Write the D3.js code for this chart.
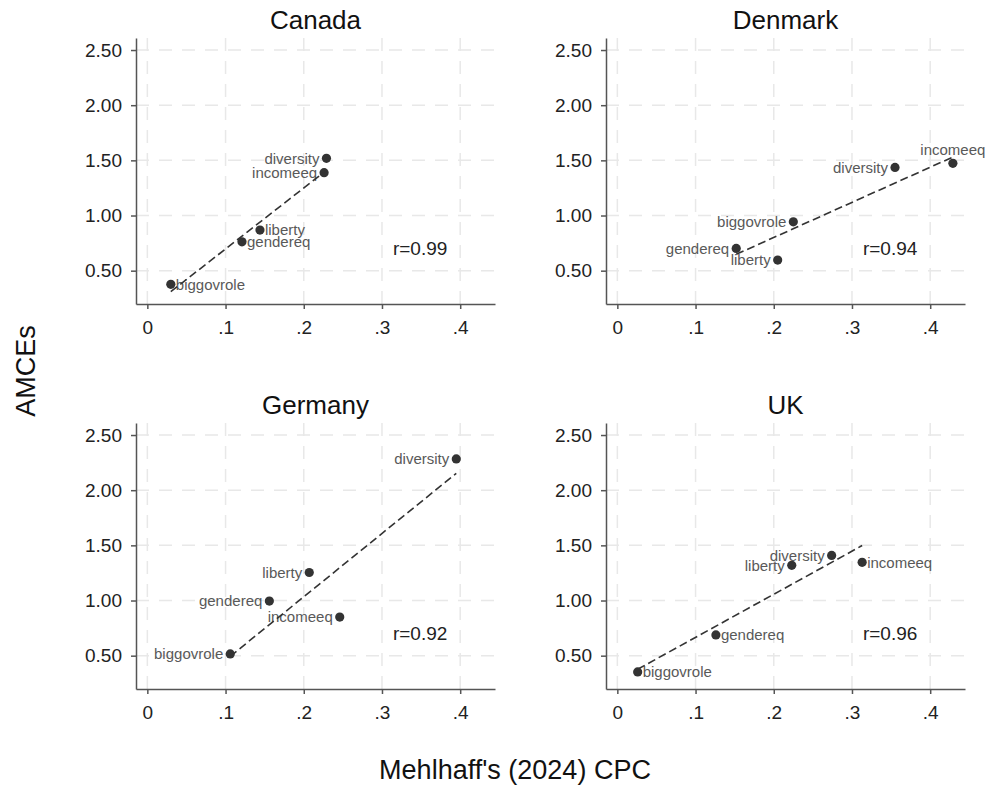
<!DOCTYPE html>
<html>
<head>
<meta charset="utf-8">
<script src="https://cdn.jsdelivr.net/npm/d3@7"></script>
<style>
  body { margin: 0; background: #fff; }
  text { font-family: Arial, "Liberation Sans", sans-serif; }
</style>
</head>
<body>
<svg id="chart"></svg>
<script>
const svgWidth = 987;
const svgHeight = 788;

// data
const countries = ["Canada", "Denmark", "Germany", "UK"];
const features = ["biggovrole", "diversity", "gendereq", "incomeeq", "liberty"];
const cpcValues = [
  [0.030, 0.229, 0.121, 0.226, 0.144],
  [0.225, 0.355, 0.152, 0.429, 0.205],
  [0.106, 0.395, 0.156, 0.246, 0.207],
  [0.026, 0.274, 0.126, 0.313, 0.223]
];
const amceValues = [
  [0.376, 1.518, 0.762, 1.388, 0.868],
  [0.943, 1.436, 0.702, 1.473, 0.596],
  [0.516, 2.283, 0.995, 0.850, 1.254],
  [0.353, 1.409, 0.688, 1.346, 1.319]
];
// fitted line value at min and max CPC
const fitValues = [
  [0.31, 1.41],
  [0.648, 1.53],
  [0.494, 2.153],
  [0.377, 1.498]
];
const rValues = [0.99, 0.94, 0.92, 0.96];
const xTicks = [0, 0.1, 0.2, 0.3, 0.4];
const yTicks = [0.5, 1, 1.5, 2, 2.5];

// marker label position per feature (like Stata mlabpos)
const labelSide = [
  ["right", "left", "right", "left", "right"],
  ["left", "left", "left", "top", "left"],
  ["left", "left", "left", "left", "left"],
  ["right", "left", "right", "right", "left"]
];

const panelW = 359;
const panelH = 266;

const svg = d3.select("#chart")
  .attr("width", svgWidth)
  .attr("height", svgHeight);

const x = d3.scaleLinear().domain([-0.0145, 0.4445]).range([0, panelW]);
const y = d3.scaleLinear().domain([0.198, 2.609]).range([panelH, 0]);

countries.forEach((country, i) => {
  const col = i % 2, row = Math.floor(i / 2);
  const g = svg.append("g")
    .attr("transform", `translate(${136 + 470 * col},${38 + 385 * row})`);

  // title
  svg.append("text")
    .attr("x", 315.5 + 470 * col)
    .attr("y", 29 + 385 * row)
    .attr("text-anchor", "middle")
    .style("font-size", "26px")
    .attr("fill", "#111")
    .text(country);

  // grid
  g.selectAll(".vgrid")
    .data(xTicks)
    .enter()
    .append("line")
    .attr("x1", d => x(d)).attr("x2", d => x(d))
    .attr("y1", 0).attr("y2", panelH)
    .attr("stroke", "#e8e8e8")
    .attr("stroke-width", 1.5)
    .attr("stroke-dasharray", "13,10");

  g.selectAll(".hgrid")
    .data(yTicks)
    .enter()
    .append("line")
    .attr("x1", 0).attr("x2", panelW)
    .attr("y1", d => y(d)).attr("y2", d => y(d))
    .attr("stroke", "#e8e8e8")
    .attr("stroke-width", 1.5)
    .attr("stroke-dasharray", "13,10");

  // axes
  const xAxis = g.append("g")
    .attr("transform", `translate(0,${panelH})`)
    .call(d3.axisBottom(x).tickValues(xTicks).tickSize(5).tickSizeOuter(0).tickPadding(12)
      .tickFormat(d => d === 0 ? "0" : d3.format(".1f")(d).replace(/^0/, "")));

  const yAxis = g.append("g")
    .call(d3.axisLeft(y).tickValues(yTicks).tickSize(5).tickSizeOuter(0).tickPadding(9)
      .tickFormat(d3.format(".2f")));

  [xAxis, yAxis].forEach(a => {
    a.select(".domain").attr("stroke", "#555").attr("stroke-width", 1.5);
    a.selectAll(".tick line").attr("stroke", "#555").attr("stroke-width", 1.5);
    a.selectAll(".tick text")
      .attr("fill", "#222")
      .style("font-size", "19px")
      .style("font-family", "Arial, 'Liberation Sans', sans-serif");
  });

  const pts = features.map((f, j) => ({
    name: f,
    cx: cpcValues[i][j],
    cy: amceValues[i][j],
    side: labelSide[i][j]
  }));

  // points
  g.selectAll(".pt")
    .data(pts)
    .enter()
    .append("circle")
    .attr("cx", d => x(d.cx))
    .attr("cy", d => y(d.cy))
    .attr("r", 4.6)
    .attr("fill", "#333");

  // marker labels
  g.selectAll(".lbl")
    .data(pts)
    .enter()
    .append("text")
    .attr("x", d => d.side === "left" ? x(d.cx) - 7 : d.side === "right" ? x(d.cx) + 5 : x(d.cx))
    .attr("y", d => d.side === "top" ? y(d.cy) - 8 : y(d.cy))
    .attr("dy", d => d.side === "top" ? "0" : "0.35em")
    .attr("text-anchor", d => d.side === "left" ? "end" : d.side === "right" ? "start" : "middle")
    .attr("fill", "#595959")
    .style("font-size", "15px")
    .text(d => d.name);

  // linear fit
  const ext = d3.extent(cpcValues[i]);
  g.append("line")
    .attr("x1", x(ext[0])).attr("y1", y(fitValues[i][0]))
    .attr("x2", x(ext[1])).attr("y2", y(fitValues[i][1]))
    .attr("stroke", "#333")
    .attr("stroke-width", 1.6)
    .attr("stroke-dasharray", "8,4");

  // correlation
  g.append("text")
    .attr("x", x(0.314))
    .attr("y", y(0.705))
    .attr("dy", "0.35em")
    .attr("fill", "#222")
    .style("font-size", "19px")
    .text(`r=${rValues[i].toFixed(2)}`);
});

// axis titles
svg.append("text")
  .attr("transform", "translate(35,371) rotate(-90)")
  .attr("text-anchor", "middle")
  .attr("fill", "#111")
  .style("font-size", "27px")
  .text("AMCEs");

svg.append("text")
  .attr("x", 515)
  .attr("y", 779)
  .attr("text-anchor", "middle")
  .attr("fill", "#111")
  .style("font-size", "27px")
  .text("Mehlhaff's (2024) CPC");
</script>
</body>
</html>
